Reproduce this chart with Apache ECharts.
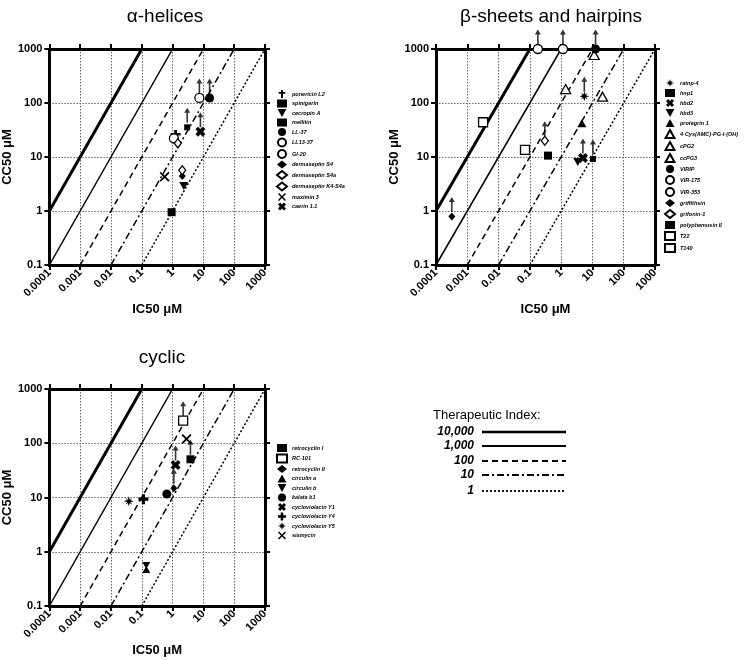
<!DOCTYPE html>
<html><head><meta charset="utf-8">
<script src="https://cdn.jsdelivr.net/npm/echarts@6/dist/echarts.min.js"></script>
<style>html,body{margin:0;padding:0;background:#fff}#c{width:750px;height:660px}</style>
</head><body><div id="c"></div>
<script>
// ---------------- DATA ----------------
const TI_VALUES = [10000, 1000, 100, 10, 1];
const TI_LABELS = ['10,000', '1,000', '100', '10', '1'];
const X_TICKS = [0.0001, 0.001, 0.01, 0.1, 1, 10, 100, 1000];
const Y_TICKS = [0.1, 1, 10, 100, 1000];
const PANEL_TITLES = ['α-helices', 'β-sheets and hairpins', 'cyclic'];

const alphaNames = ['ponericin L2','spinigerin','cecropin A','mellitin','LL-37','LL13-37','GI-20','dermaseptin S4','dermaseptin S4a','dermaseptin K4-S4a','maximin 3','caerin 1.1'];
const alphaIC50  = [1.25, 2.98, 2.3, 0.93, 15.9, 7.4, 1.1, 2.06, 2.06, 1.48, 0.55, 8.0];
const alphaCC50  = [24.5, 35.5, 2.9, 0.95, 124, 124, 22.2, 4.45, 5.7, 17.9, 4.3, 29.4];
const alphaLower = [0, 1, 0, 0, 1, 1, 0, 0, 0, 0, 0, 1];

const betaNames = ['ratnp-4','hnp1','hbd2','hbd3','protegrin 1','4-Cys(AMC)-PG-I-(OH)','cPG2','ccPG3','VIRIP','VIR-175','VIR-353','griffithsin','grifonin-1','polyphemusin II','T22','T140'];
const betaIC50  = [5.5, 10.4, 4.97, 3.4, 4.6, 11.4, 1.39, 21, 12.6, 0.18, 1.14, 0.00032, 0.30, 0.38, 0.0032, 0.070];
const betaCC50  = [133, 9.2, 9.6, 8.1, 42, 774, 181, 131, 1000, 1000, 1000, 0.79, 20, 10.6, 44, 13.5];
const betaLower = [1, 1, 1, 0, 0, 0, 0, 0, 1, 1, 1, 1, 1, 0, 0, 0];

const cyclicNames = ['retrocyclin I','RC-101','retrocyclin II','circulin a','circulin b','circulin b','kalata b1','cycloviolacin Y1','cycloviolacin Y4','cycloviolacin Y5','siamycin'];
const cyclicIC50  = [3.8, 2.2, 1.1, 0.14, 0.14, 4.4, 0.65, 1.25, 0.113, 0.038, 2.83];
const cyclicCC50  = [50.6, 261, 14.8, 0.47, 0.56, 48, 11.6, 39.7, 9.3, 8.5, 120];
const cyclicLower = [1, 1, 1, 0, 0, 0, 0, 1, 0, 0, 0];

// ---------------- STYLE ----------------
const P = {
  dagger: 'path://M3.6,0H6.4V3H10V5.6H6.4V12H3.6V5.6H0V3H3.6Z',
  plus: 'path://M3.4,0H6.6V3.4H10V6.6H6.6V10H3.4V6.6H0V3.4H3.4Z',
  thinX: 'path://M0,1.3L1.3,0L5,3.7L8.7,0L10,1.3L6.3,5L10,8.7L8.7,10L5,6.3L1.3,10L0,8.7L3.7,5Z',
  boldX: 'path://M0,2.6L2.6,0L5,2.4L7.4,0L10,2.6L7.6,5L10,7.4L7.4,10L5,7.6L2.6,10L0,7.4L2.4,5Z',
  star: 'path://M5,0L6,3.3L8.5,1.5L6.7,4L10,5L6.7,6L8.5,8.5L6,6.7L5,10L4,6.7L1.5,8.5L3.3,6L0,5L3.3,4L1.5,1.5L4,3.3Z',
  triDown: 'path://M0,0L10,0L5,9Z',
  triUp: 'path://M5,0L10,9L0,9Z',
  arrow: 'path://M5,0L10,6H6.3V18H3.7V6H0Z'
};
const ST = {
  'ponericin L2': [P.dagger, [10, 12], 0],
  'spinigerin': ['rect', 6, 0],
  'cecropin A': [P.triDown, [9, 8], 0],
  'mellitin': ['rect', 8, 0],
  'LL-37': ['circle', 9, 0],
  'LL13-37': ['circle', 9, 1],
  'GI-20': ['circle', 9, 1],
  'dermaseptin S4': ['diamond', [7, 8], 0],
  'dermaseptin S4a': ['diamond', [7, 9], 1],
  'dermaseptin K4-S4a': ['diamond', [7, 9], 1],
  'maximin 3': [P.thinX, 10, 0],
  'caerin 1.1': [P.boldX, 10, 0],
  'ratnp-4': [P.star, 10, 0],
  'hnp1': ['rect', 6, 0],
  'hbd2': [P.boldX, 10, 0],
  'hbd3': [P.triDown, [9, 8], 0],
  'protegrin 1': [P.triUp, [9, 8], 0],
  '4-Cys(AMC)-PG-I-(OH)': [P.triUp, [10, 9], 1],
  'cPG2': [P.triUp, [10, 9], 1],
  'ccPG3': [P.triUp, [10, 9], 1],
  'VIRIP': ['circle', 9, 0],
  'VIR-175': ['circle', 9, 1],
  'VIR-353': ['circle', 9, 1],
  'griffithsin': ['diamond', [7, 8], 0],
  'grifonin-1': ['diamond', [7, 9], 1],
  'polyphemusin II': ['rect', 8, 0],
  'T22': ['rect', 9, 1],
  'T140': ['rect', 9, 1],
  'retrocyclin I': ['rect', 8, 0],
  'RC-101': ['rect', 9, 1],
  'retrocyclin II': ['diamond', [7, 8], 0],
  'circulin a': [P.triUp, [8, 7], 0],
  'circulin b': [P.triDown, [8, 7], 0],
  'kalata b1': ['circle', 9, 0],
  'cycloviolacin Y1': [P.boldX, 10, 0],
  'cycloviolacin Y4': [P.plus, 10, 0],
  'cycloviolacin Y5': [P.star, 10, 0],
  'siamycin': [P.thinX, 10, 0]
};
const TI_STYLE = [
  {w: 3, d: null}, {w: 1.5, d: null}, {w: 1.5, d: [6, 4]}, {w: 1.5, d: [7, 3, 2, 3]}, {w: 1.5, d: [2, 2]}
];
const FONT = 'Liberation Sans, Arial, sans-serif';

const panels = [
  {names: alphaNames, ic: alphaIC50, cc: alphaCC50, lo: alphaLower,
   grid: {left: 48, top: 49, width: 217, height: 216}, legend: {left: 276, top: 90, gap: 1.5}, titleX: 160, titleY: 2},
  {names: betaNames, ic: betaIC50, cc: betaCC50, lo: betaLower,
   grid: {left: 436, top: 49, width: 219, height: 216}, legend: {left: 664, top: 79, gap: 2}, titleX: 546, titleY: 2},
  {names: cyclicNames, ic: cyclicIC50, cc: cyclicCC50, lo: cyclicLower,
   grid: {left: 48, top: 389, width: 217, height: 217}, legend: {left: 276, top: 444, gap: 1.5}, titleX: 157, titleY: 343}
];

const fmt = v => String(parseFloat(Number(v).toPrecision(3)));
const grids = [], xAxes = [], yAxes = [], series = [], legends = [], titles = [];

panels.forEach((p, i) => {
  grids.push(p.grid);
  titles.push({text: PANEL_TITLES[i], left: p.titleX, top: p.titleY, textAlign: 'center',
    textStyle: {fontFamily: FONT, fontSize: 19, fontWeight: 'normal', color: '#000'}});
  const lineCommon = {lineStyle: {color: '#000', width: 3}};
  const tickCommon = {show: true, inside: false, length: 5, lineStyle: {color: '#000', width: 2}};
  xAxes.push({type: 'log', gridIndex: i, min: X_TICKS[0], max: X_TICKS[X_TICKS.length - 1], splitNumber: X_TICKS.length - 1,
    position: 'bottom', axisLine: {onZero: false, ...lineCommon}, axisTick: tickCommon,
    axisLabel: {rotate: 45, formatter: fmt, fontFamily: FONT, fontSize: 11, fontWeight: 'bold', color: '#000', margin: 6},
    splitLine: {show: true, lineStyle: {type: [1.5, 1.5], color: '#666', width: 1}},
    name: 'IC50 μM', nameLocation: 'middle', nameGap: 38,
    nameTextStyle: {fontFamily: FONT, fontSize: 13, fontWeight: 'bold', color: '#000'}});
  yAxes.push({type: 'log', gridIndex: i, min: Y_TICKS[0], max: Y_TICKS[Y_TICKS.length - 1], splitNumber: Y_TICKS.length - 1,
    position: 'left', axisLine: {onZero: false, ...lineCommon}, axisTick: tickCommon,
    axisLabel: {formatter: fmt, fontFamily: FONT, fontSize: 11, fontWeight: 'bold', color: '#000', margin: 7},
    splitLine: {show: true, lineStyle: {type: [1.5, 1.5], color: '#666', width: 1}},
    name: 'CC50 μM', nameLocation: 'middle', nameGap: 28, nameRotate: 90,
    nameTextStyle: {fontFamily: FONT, fontSize: 13, fontWeight: 'bold', color: '#000'}});
});
panels.forEach((p, i) => {
  const lineCommon = {lineStyle: {color: '#000', width: 3}};
  const tickCommon = {show: true, inside: false, length: 5, lineStyle: {color: '#000', width: 2}};
  xAxes.push({type: 'log', gridIndex: i, min: X_TICKS[0], max: X_TICKS[X_TICKS.length - 1], splitNumber: X_TICKS.length - 1,
    position: 'top', axisLine: {onZero: false, ...lineCommon}, axisTick: tickCommon, axisLabel: {show: false}, splitLine: {show: false}});
  yAxes.push({type: 'log', gridIndex: i, min: Y_TICKS[0], max: Y_TICKS[Y_TICKS.length - 1], splitNumber: Y_TICKS.length - 1,
    position: 'right', axisLine: {onZero: false, ...lineCommon}, axisTick: tickCommon, axisLabel: {show: false}, splitLine: {show: false}});
});

panels.forEach((p, i) => {
  const xmin = X_TICKS[0], xmax = X_TICKS[X_TICKS.length - 1];
  const ymin = Y_TICKS[0], ymax = Y_TICKS[Y_TICKS.length - 1];
  TI_VALUES.forEach((t, k) => {
    const xs = Math.max(xmin, ymin / t), xe = Math.min(xmax, ymax / t);
    series.push({type: 'line', xAxisIndex: i, yAxisIndex: i, silent: true, symbol: 'none', z: 3,
      data: [[xs, xs * t], [xe, xe * t]],
      lineStyle: {color: '#000', width: TI_STYLE[k].w, type: TI_STYLE[k].d || 'solid'}});
  });
  const order = [];
  const groups = {};
  p.names.forEach((n, j) => {
    if (!groups[n]) { groups[n] = []; order.push(n); }
    groups[n].push([p.ic[j], p.cc[j]]);
  });
  order.forEach(n => {
    const s = ST[n];
    series.push({type: 'scatter', name: n, xAxisIndex: i, yAxisIndex: i, z: 6,
      symbol: s[0], symbolSize: s[1], data: groups[n],
      itemStyle: {color: s[2] ? '#fff' : '#000', borderColor: '#000', borderWidth: s[2] ? 1.3 : 0, opacity: 1}});
  });
  const arrows = [];
  p.names.forEach((n, j) => { if (p.lo[j]) arrows.push([p.ic[j], p.cc[j]]); });
  series.push({type: 'scatter', xAxisIndex: i, yAxisIndex: i, z: 5, silent: true,
    symbol: P.arrow, symbolSize: [6, 15], symbolOffset: [0, -12], data: arrows,
    itemStyle: {color: '#000'}});
  legends.push({orient: 'vertical', left: p.legend.left, top: p.legend.top, data: order, padding: 0,
    itemWidth: 10, itemHeight: 8, itemGap: p.legend.gap, itemTextGap: 10, selectedMode: false,
    textStyle: {fontFamily: FONT, fontSize: 5.5, fontStyle: 'italic', fontWeight: 'bold', color: '#000'}});
});

// Therapeutic index key
const keyRows = [432, 446, 461, 475, 491];
const graphics = [{type: 'text', left: 433, top: 409,
  style: {text: 'Therapeutic Index:', font: '13px ' + FONT, fill: '#000'}}];
TI_LABELS.forEach((lab, k) => {
  graphics.push({type: 'text', x: 474, y: keyRows[k],
    style: {text: lab, font: 'italic bold 12px ' + FONT, fill: '#000', textAlign: 'right', textVerticalAlign: 'middle'}});
  graphics.push({type: 'line', shape: {x1: 482, y1: keyRows[k], x2: 566, y2: keyRows[k]},
    style: {stroke: '#000', lineWidth: TI_STYLE[k].w === 3 ? 2.5 : 1.8, lineDash: TI_STYLE[k].d}});
});

const chart = echarts.init(document.getElementById('c'), null, {renderer: 'canvas'});
chart.setOption({
  animation: false,
  backgroundColor: '#fff',
  title: titles,
  grid: grids,
  xAxis: xAxes,
  yAxis: yAxes,
  legend: legends,
  series: series,
  graphic: graphics
});
</script></body></html>
